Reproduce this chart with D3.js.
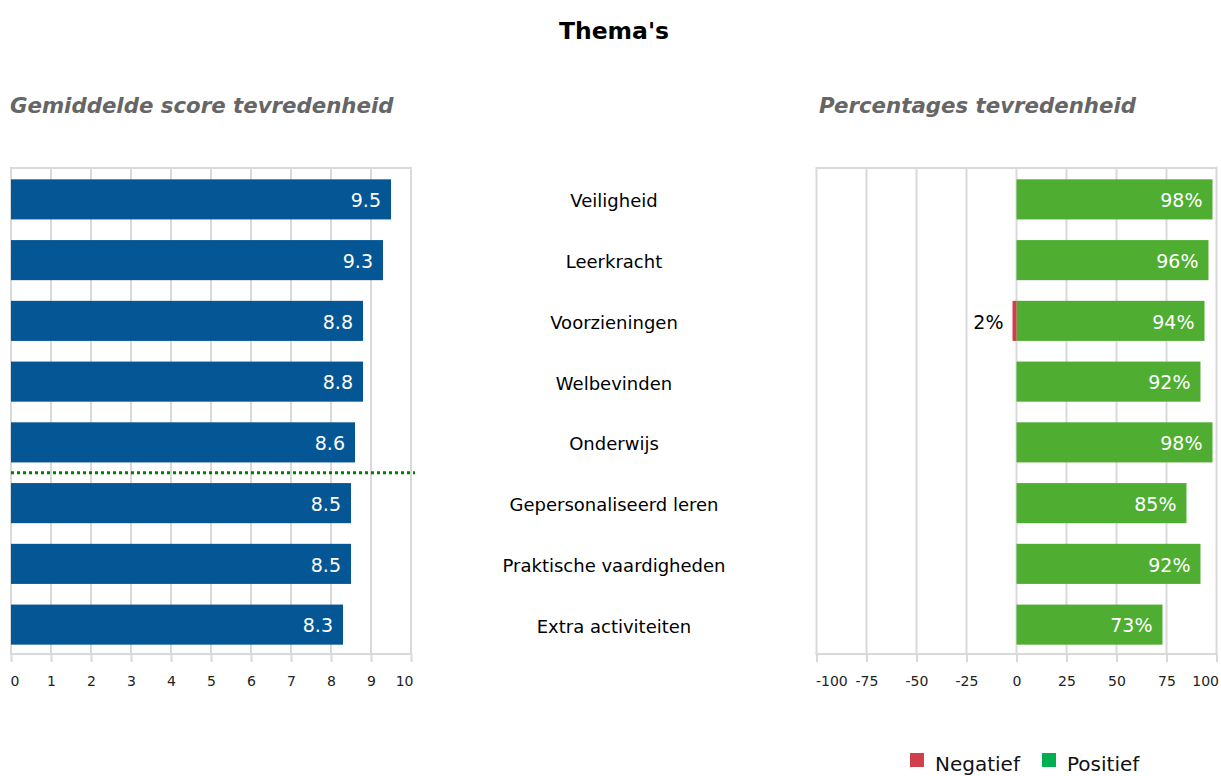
<!DOCTYPE html>
<html>
<head>
<meta charset="utf-8">
<script src="https://cdn.jsdelivr.net/npm/d3@7"></script>
<style>
  html, body { margin: 0; padding: 0; background: #fff; }
  svg { display: block; font-family: "DejaVu Sans", Verdana, sans-serif; }
</style>
</head>
<body>
<svg id="chart" width="1221" height="776"></svg>
<script>
const categories = ["Veiligheid", "Leerkracht", "Voorzieningen", "Welbevinden", "Onderwijs",
  "Gepersonaliseerd leren", "Praktische vaardigheden", "Extra activiteiten"];
const scores = [9.5, 9.3, 8.8, 8.8, 8.6, 8.5, 8.5, 8.3];
const negatives = [0, 0, 2, 0, 0, 0, 0, 0];
const positives = [98, 96, 94, 92, 98, 85, 92, 73];
const scoreTicks = [0, 1, 2, 3, 4, 5, 6, 7, 8, 9, 10];
const pctTicks = [-100, -75, -50, -25, 0, 25, 50, 75, 100];
const referenceAfter = "Onderwijs"; // dotted reference line sits below this category
const legendItems = ["Negatief", "Positief"];

const svg = d3.select("#chart");
const gridColor = "#d9d9d9";
const plotTop = 168, plotBottom = 654;

const y = d3.scaleBand().domain(categories).range([plotTop + 1, plotBottom + 1]).paddingInner(0.34).paddingOuter(0.17);
const xL = d3.scaleLinear().domain([0, 10]).range([11, 411]);
const xR = d3.scaleLinear().domain([-100, 100]).range([816.5, 1216.5]);

svg.append("rect").attr("width", 1221).attr("height", 776).attr("fill", "#fff");

// Title
svg.append("text").attr("x", 614).attr("y", 39).attr("text-anchor", "middle")
  .attr("font-size", 23.5).attr("font-weight", "bold").attr("fill", "#000").text("Thema's");

svg.append("text").attr("x", 10).attr("y", 113).attr("font-size", 21.3)
  .attr("font-weight", "bold").attr("font-style", "italic").attr("fill", "#666").text("Gemiddelde score tevredenheid");
svg.append("text").attr("x", 819).attr("y", 113).attr("font-size", 21.3)
  .attr("font-weight", "bold").attr("font-style", "italic").attr("fill", "#666").text("Percentages tevredenheid");

function drawPanel(x, ticks, fmt) {
  const g = svg.append("g");
  g.selectAll("line.grid").data(ticks).join("line").attr("class", "grid")
    .attr("x1", d => x(d)).attr("x2", d => x(d)).attr("y1", plotTop).attr("y2", plotBottom)
    .attr("stroke", gridColor).attr("stroke-width", 2);
  g.append("line").attr("x1", x.range()[0] - 1).attr("x2", x.range()[1] + 1)
    .attr("y1", plotTop).attr("y2", plotTop).attr("stroke", gridColor).attr("stroke-width", 2);
  const axis = d3.axisBottom(x).tickValues(ticks).tickSize(8).tickSizeOuter(0).tickPadding(14).tickFormat(fmt);
  const ag = svg.append("g").attr("transform", `translate(0,${plotBottom})`).call(axis);
  ag.select(".domain").attr("stroke", gridColor).attr("stroke-width", 2)
    .attr("d", `M${x.range()[0] - 1},0H${x.range()[1] + 1}`);
  ag.selectAll(".tick line").attr("stroke", gridColor).attr("stroke-width", 2);
  ag.selectAll(".tick text").attr("font-size", 14).attr("fill", "#222")
    .attr("font-family", "DejaVu Sans, Verdana, sans-serif")
    .attr("text-anchor", (d, i) => i === 0 ? "start" : (i === ticks.length - 1 ? "end" : "middle"))
    .attr("dx", (d, i) => i === 0 ? -1 : (i === ticks.length - 1 ? 2 : 0));
  return g;
}

drawPanel(xL, scoreTicks, d => d);
drawPanel(xR, pctTicks, d => d);

// Left bars
const gl = svg.append("g");
gl.selectAll("rect").data(categories).join("rect")
  .attr("x", xL(0)).attr("y", d => y(d)).attr("height", y.bandwidth())
  .attr("width", (d, i) => xL(scores[i]) - xL(0)).attr("fill", "#045694");
gl.selectAll("text").data(categories).join("text")
  .attr("x", (d, i) => xL(scores[i]) - 10).attr("y", d => y(d) + y.bandwidth() / 2 + 1)
  .attr("dy", "0.36em").attr("text-anchor", "end").attr("font-size", 19).attr("fill", "#fff")
  .text((d, i) => d3.format(".1f")(scores[i]));

// Reference dotted line
const refY = y(referenceAfter) + y.bandwidth() + (y.step() - y.bandwidth()) / 2;
svg.append("line").attr("x1", xL(0)).attr("x2", 415).attr("y1", refY).attr("y2", refY)
  .attr("stroke", "#008000").attr("stroke-width", 3).attr("stroke-dasharray", "3,3");

// Category labels
svg.append("g").selectAll("text").data(categories).join("text")
  .attr("x", 614).attr("y", d => y(d) + y.bandwidth() / 2 + 1.5).attr("dy", "0.36em")
  .attr("text-anchor", "middle").attr("font-size", 18).attr("fill", "#000").text(d => d);

// Right bars
const gr = svg.append("g");
gr.selectAll("rect.pos").data(categories).join("rect").attr("class", "pos")
  .attr("x", xR(0)).attr("y", d => y(d)).attr("height", y.bandwidth())
  .attr("width", (d, i) => xR(positives[i]) - xR(0)).attr("fill", "#4fae32");
gr.selectAll("rect.neg").data(categories.filter((d, i) => negatives[i] > 0)).join("rect").attr("class", "neg")
  .attr("x", d => xR(-negatives[categories.indexOf(d)])).attr("y", d => y(d)).attr("height", y.bandwidth())
  .attr("width", d => xR(0) - xR(-negatives[categories.indexOf(d)])).attr("fill", "#d13f4b");
gr.selectAll("text.pos").data(categories).join("text").attr("class", "pos")
  .attr("x", (d, i) => xR(positives[i]) - 10).attr("y", d => y(d) + y.bandwidth() / 2 + 1)
  .attr("dy", "0.36em").attr("text-anchor", "end").attr("font-size", 19).attr("fill", "#fff")
  .text((d, i) => positives[i] + "%");
gr.selectAll("text.neg").data(categories.filter((d, i) => negatives[i] > 0)).join("text").attr("class", "neg")
  .attr("x", d => xR(-negatives[categories.indexOf(d)]) - 9).attr("y", d => y(d) + y.bandwidth() / 2 + 1)
  .attr("dy", "0.36em").attr("text-anchor", "end").attr("font-size", 19).attr("fill", "#000")
  .text(d => negatives[categories.indexOf(d)] + "%");

// Legend
const legColors = ["#d13f4b", "#00b050"];
const lg = svg.append("g");
const legX = [910, 1042];
legendItems.forEach((name, i) => {
  lg.append("rect").attr("x", legX[i]).attr("y", 753).attr("width", 14).attr("height", 14).attr("fill", legColors[i]);
  lg.append("text").attr("x", legX[i] + 25).attr("y", 771).attr("font-size", 20).attr("fill", "#111").text(name);
});
</script>
</body>
</html>
